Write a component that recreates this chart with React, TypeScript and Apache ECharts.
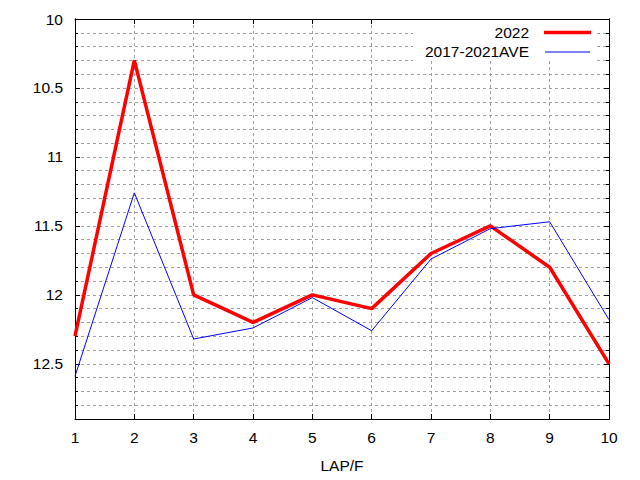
import { useEffect, useRef } from 'react'
import * as echarts from 'echarts'

const laps = [1, 2, 3, 4, 5, 6, 7, 8, 9, 10]
const times2022 = [12.3, 10.3, 12.0, 12.2, 12.0, 12.1, 11.7, 11.5, 11.8, 12.5]
const timesAve = [12.59, 11.26, 12.32, 12.24, 12.02, 12.26, 11.74, 11.52, 11.47, 12.18]
const seriesNames = ['2022', '2017-2021AVE']

const FONT = 'Liberation Sans, Arial, sans-serif'
const GRID_LINE = { show: true, lineStyle: { color: '#a0a0a0', type: [3, 3] as number[], width: 1 } }

export default function App() {
  const chartRef = useRef<HTMLDivElement>(null)

  useEffect(() => {
    if (!chartRef.current) return
    const chart = echarts.init(chartRef.current, null, { renderer: 'svg' })

    const yBase = {
      type: 'value' as const,
      inverse: true,
      min: 10,
      max: 12.9,
      axisLine: { show: true, lineStyle: { color: '#000', width: 1 } },
    }
    const xBase = {
      type: 'value' as const,
      min: 1,
      max: 10,
      interval: 1,
      axisLine: { show: true, lineStyle: { color: '#000', width: 1 } },
    }

    const option: echarts.EChartsOption = {
      animation: false,
      backgroundColor: '#fff',
      textStyle: { fontFamily: FONT },
      grid: { left: 75, right: 31, top: 19, bottom: 61 },
      xAxis: [
        {
          ...xBase,
          position: 'bottom',
          axisTick: { inside: true, length: 5, lineStyle: { color: '#000' } },
          axisLabel: { color: '#000', fontSize: 15.5, fontFamily: FONT, margin: 10 },
          splitLine: GRID_LINE,
          name: 'LAP/F',
          nameLocation: 'middle',
          nameGap: 38,
          nameTextStyle: { color: '#000', fontSize: 15.5, fontFamily: FONT },
        },
        {
          ...xBase,
          position: 'top',
          axisTick: { inside: true, length: 5, lineStyle: { color: '#000' } },
          axisLabel: { show: false },
          splitLine: { show: false },
        },
      ],
      yAxis: [
        {
          ...yBase,
          position: 'left',
          interval: 0.1,
          axisTick: { inside: true, length: 3, lineStyle: { color: '#000' } },
          axisLabel: {
            color: '#000',
            fontSize: 15.5,
            fontFamily: FONT,
            margin: 12,
            formatter: (v: number) => (Math.round(v * 10) % 5 === 0 ? String(Math.round(v * 10) / 10) : ''),
          },
          splitLine: GRID_LINE,
        },
        {
          ...yBase,
          position: 'right',
          interval: 0.1,
          axisTick: { inside: true, length: 3, lineStyle: { color: '#000' } },
          axisLabel: { show: false },
          splitLine: { show: false },
        },
        {
          ...yBase,
          position: 'left',
          interval: 0.5,
          axisTick: { inside: true, length: 5, lineStyle: { color: '#000' } },
          axisLabel: { show: false },
          splitLine: { show: false },
        },
        {
          ...yBase,
          position: 'right',
          interval: 0.5,
          axisTick: { inside: true, length: 5, lineStyle: { color: '#000' } },
          axisLabel: { show: false },
          splitLine: { show: false },
        },
      ],
      graphic: [
        {
          type: 'rect',
          z: 100,
          shape: { x: 413, y: 20, width: 184, height: 41 },
          style: { fill: '#fff' },
        },
        {
          type: 'text',
          z: 101,
          x: 529,
          y: 32.5,
          style: {
            text: seriesNames[0],
            fill: '#000',
            font: `15.5px ${FONT}`,
            align: 'right',
            verticalAlign: 'middle',
          },
        },
        {
          type: 'text',
          z: 101,
          x: 529,
          y: 51.5,
          style: {
            text: seriesNames[1],
            fill: '#000',
            font: `15.5px ${FONT}`,
            align: 'right',
            verticalAlign: 'middle',
          },
        },
        {
          type: 'line',
          z: 101,
          shape: { x1: 544, y1: 32.5, x2: 591, y2: 32.5 },
          style: { stroke: '#ff0000', lineWidth: 3.5 },
        },
        {
          type: 'line',
          z: 101,
          shape: { x1: 545, y1: 52, x2: 590, y2: 52 },
          style: { stroke: '#0000ff', lineWidth: 1 },
        },
      ],
      series: [
        {
          name: seriesNames[0],
          type: 'line',
          xAxisIndex: 0,
          yAxisIndex: 0,
          data: laps.map((l, i) => [l, times2022[i]]),
          symbol: 'none',
          lineStyle: { color: '#ff0000', width: 3.5 },
          itemStyle: { color: '#ff0000' },
        },
        {
          name: seriesNames[1],
          type: 'line',
          xAxisIndex: 0,
          yAxisIndex: 0,
          data: laps.map((l, i) => [l, timesAve[i]]),
          symbol: 'none',
          lineStyle: { color: '#0000ff', width: 1 },
          itemStyle: { color: '#0000ff' },
        },
      ],
    }

    chart.setOption(option)

    return () => {
      chart.dispose()
    }
  }, [])

  return (
    <div
      ref={chartRef}
      style={{ position: 'absolute', left: 0, top: 0, width: '640px', height: '480px' }}
    />
  )
}
